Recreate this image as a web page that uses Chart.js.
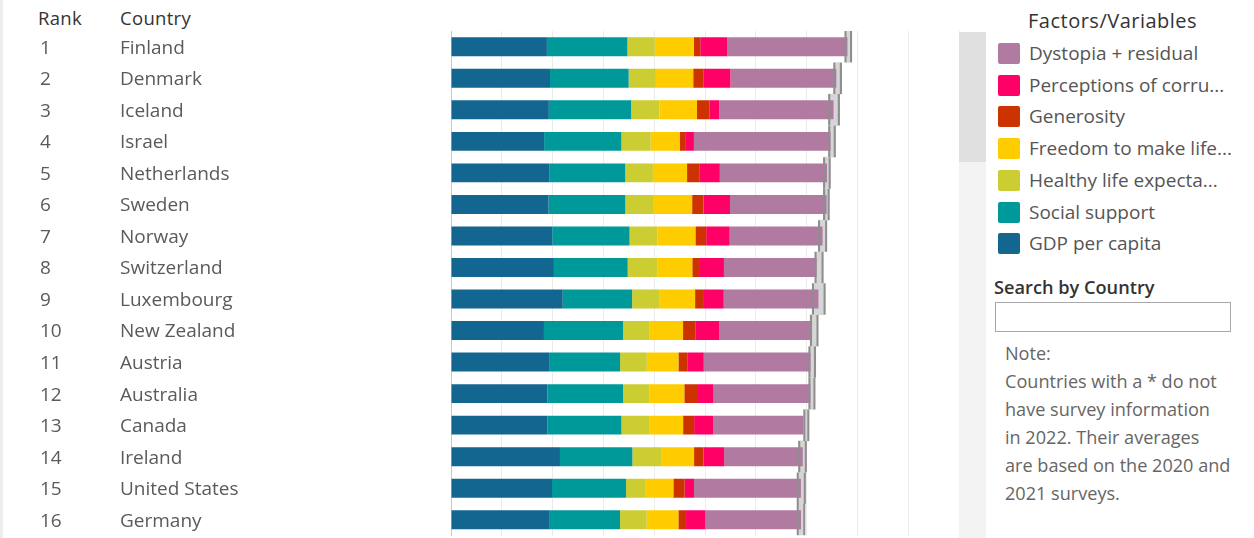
<!DOCTYPE html>
<html>
<head>
<meta charset="utf-8">
<script src="https://cdn.jsdelivr.net/npm/chart.js@4/dist/chart.umd.min.js"></script>
<style>
  html, body { margin: 0; padding: 0; background: #fff; }
  body { width: 1254px; height: 538px; position: relative; overflow: hidden;
         font-family: "Open Sans", "Noto Sans", sans-serif; }
  #leftStrip { position: absolute; left: 0; top: 0; width: 3px; height: 538px; background: #eeeeee; }
  #chartWrap { position: absolute; left: 0; top: 0; width: 960px; height: 538px; }
  .hdr { position: absolute; top: 5px; font-size: 18.5px; color: #333; line-height: 26px; letter-spacing: 0.3px; }
  #track { position: absolute; left: 959px; top: 32px; width: 27px; height: 506px; background: #f3f3f3; }
  #thumb { position: absolute; left: 959px; top: 32px; width: 27px; height: 130px; background: #e0e0e0; }
  #legTitle { position: absolute; left: 1028px; top: 8px; font-size: 20px; color: #333; line-height: 26px; letter-spacing: 0.5px; }
  .legItem { position: absolute; left: 998px; height: 22px; }
  .legSw { position: absolute; left: 0; top: 0; width: 22px; height: 21px; border-radius: 2px; }
  .legTx { position: absolute; left: 31px; top: -3px; font-size: 19px; color: #555; line-height: 26px; white-space: nowrap; }
  #searchLbl { position: absolute; left: 994px; top: 274px; font-size: 18.2px; color: #333; font-weight: 600; line-height: 26px; }
  #searchBox { position: absolute; left: 995px; top: 302px; width: 234px; height: 28px; border: 1px solid #a8a8a8; background: #fff; }
  #note { position: absolute; left: 1005px; top: 339px; font-size: 18.1px; color: #666; line-height: 28px; white-space: nowrap; }
</style>
</head>
<body>
<div id="leftStrip"></div>
<div class="hdr" style="left:38px;">Rank</div>
<div class="hdr" style="left:120px;">Country</div>
<div id="chartWrap"><canvas id="c" width="960" height="538"></canvas></div>
<div id="track"></div>
<div id="thumb"></div>
<div id="legTitle">Factors/Variables</div>
<div id="legend"></div>
<div id="searchLbl">Search by Country</div>
<div id="searchBox"></div>
<div id="note">Note:<br>Countries with a * do not<br>have survey information<br>in 2022. Their averages<br>are based on the 2020 and<br>2021 surveys.</div>
<script>
// ---- data ----
const ranks = ["1","2","3","4","5","6","7","8","9","10","11","12","13","14","15","16"];
const countries = ["Finland","Denmark","Iceland","Israel","Netherlands","Sweden","Norway","Switzerland",
  "Luxembourg","New Zealand","Austria","Australia","Canada","Ireland","United States","Germany"];
const gdp        = [1.888,1.949,1.926,1.833,1.942,1.921,1.994,2.026,2.200,1.830,1.931,1.896,1.895,2.145,1.988,1.930];
const social     = [1.585,1.548,1.620,1.521,1.488,1.510,1.521,1.452,1.365,1.557,1.398,1.490,1.460,1.425,1.458,1.398];
const health     = [0.535,0.537,0.559,0.577,0.545,0.562,0.544,0.590,0.531,0.525,0.525,0.525,0.558,0.565,0.374,0.525];
const freedom    = [0.772,0.734,0.738,0.569,0.672,0.754,0.752,0.682,0.709,0.656,0.623,0.682,0.656,0.650,0.557,0.623];
const generosity = [0.126,0.208,0.250,0.124,0.251,0.225,0.212,0.151,0.157,0.250,0.184,0.250,0.217,0.184,0.223,0.151];
const corruption = [0.535,0.525,0.187,0.158,0.394,0.520,0.463,0.472,0.407,0.459,0.315,0.315,0.374,0.407,0.183,0.374];
const dystopia   = [2.363,2.084,2.250,2.691,2.110,1.903,1.829,1.825,1.864,1.831,2.100,1.916,1.778,1.549,2.106,1.890];
const ciLow      = [7.75,7.53,7.43,7.43,7.33,7.33,7.23,7.16,7.11,7.07,7.04,7.04,6.94,6.84,6.81,6.81];
const ciHigh     = [7.89,7.69,7.65,7.57,7.47,7.45,7.40,7.33,7.37,7.23,7.18,7.17,7.05,7.00,6.98,6.97];

const seriesNames  = ["GDP per capita","Social support","Healthy life expectancy","Freedom to make life choices",
  "Generosity","Perceptions of corruption","Dystopia + residual"];
const legendLabels = ["GDP per capita","Social support","Healthy life expecta...","Freedom to make life...",
  "Generosity","Perceptions of corru...","Dystopia + residual"];
const seriesColors = ["#13668f","#00999a","#cccc33","#ffcc00","#cc3300","#ff0066","#b07aa1"];
const seriesData   = [gdp, social, health, freedom, generosity, corruption, dystopia];

// ---- legend (reversed order, as in the reference) ----
const leg = document.getElementById('legend');
for (let k = seriesNames.length - 1, row = 0; k >= 0; k--, row++) {
  const item = document.createElement('div');
  item.className = 'legItem';
  item.style.top = (43 + row * 31.7) + 'px';
  item.innerHTML = '<div class="legSw" style="background:' + seriesColors[k] + '"></div>' +
                   '<div class="legTx">' + legendLabels[k] + '</div>';
  leg.appendChild(item);
}

// ---- chart ----
Chart.defaults.font.family = '"Open Sans", "Noto Sans", sans-serif';
const ciPairs = ciLow.map((v, i) => [v, ciHigh[i]]);

const datasets = seriesData.map((d, k) => ({
  label: seriesNames[k], data: d, backgroundColor: seriesColors[k], grouped: false,
  borderWidth: 0, barPercentage: 0.6, categoryPercentage: 1, order: 1, yAxisID: 'y'
}));
datasets.push({
  label: 'CI fill', data: ciPairs, yAxisID: 'yCI', stack: 'ciFill', grouped: false,
  backgroundColor: '#d6d6d6', borderWidth: 0, barPercentage: 1, categoryPercentage: 1, order: 2
});
datasets.push({
  label: 'CI lines', data: ciPairs, yAxisID: 'yCI', stack: 'ciLine', grouped: false,
  backgroundColor: 'rgba(0,0,0,0)', borderColor: '#8e8e8e',
  borderWidth: {left: 1.5, right: 1.5, top: 0, bottom: 0}, borderSkipped: false,
  barPercentage: 1, categoryPercentage: 1, order: 0
});

const noPad = s => { s.paddingTop = 0; s.paddingBottom = 0; };
const tickFont = {size: 19};
new Chart(document.getElementById('c'), {
  type: 'bar',
  data: {labels: countries, datasets},
  options: {
    indexAxis: 'y', responsive: false, animation: false, devicePixelRatio: 1,
    layout: {padding: {left: 40, top: 31, right: 1, bottom: 2.5}},
    plugins: {legend: {display: false}, tooltip: {enabled: false}},
    scales: {
      x: {
        type: 'linear', stacked: true, min: 0, max: 10, position: 'bottom',
        ticks: {display: false, stepSize: 1},
        grid: {color: c => (c.tick && c.tick.value === 0) ? 'rgba(0,0,0,0)' : '#ebebeb', lineWidth: 1, drawTicks: false},
        border: {display: false},
        afterFit: s => { s.height = 0; s.paddingLeft = 0; s.paddingRight = 0; }
      },
      y: {
        type: 'category', axis: 'y', position: 'left', stacked: true, offset: true, weight: 0,
        labels: countries,
        grid: {display: false, drawTicks: false},
        border: {display: true, color: '#c8c8c8', dash: [2, 2], width: 1},
        ticks: {crossAlign: 'far', color: '#5a5a5a', font: tickFont, padding: 0, autoSkip: false, labelOffset: 1.5},
        afterFit: s => { s.width = 331; noPad(s); }
      },
      yRank: {
        type: 'category', axis: 'y', position: 'left', offset: true, weight: 1,
        labels: ranks,
        grid: {display: false, drawTicks: false},
        border: {display: false},
        ticks: {crossAlign: 'far', color: '#5a5a5a', font: tickFont, padding: 0, autoSkip: false, labelOffset: 1.5},
        afterFit: s => { s.width = 80; noPad(s); }
      },
      yCI: {
        type: 'category', axis: 'y', position: 'left', stacked: true, offset: true, display: false,
        labels: countries,
        afterFit: noPad
      }
    }
  }
});
</script>
</body>
</html>
